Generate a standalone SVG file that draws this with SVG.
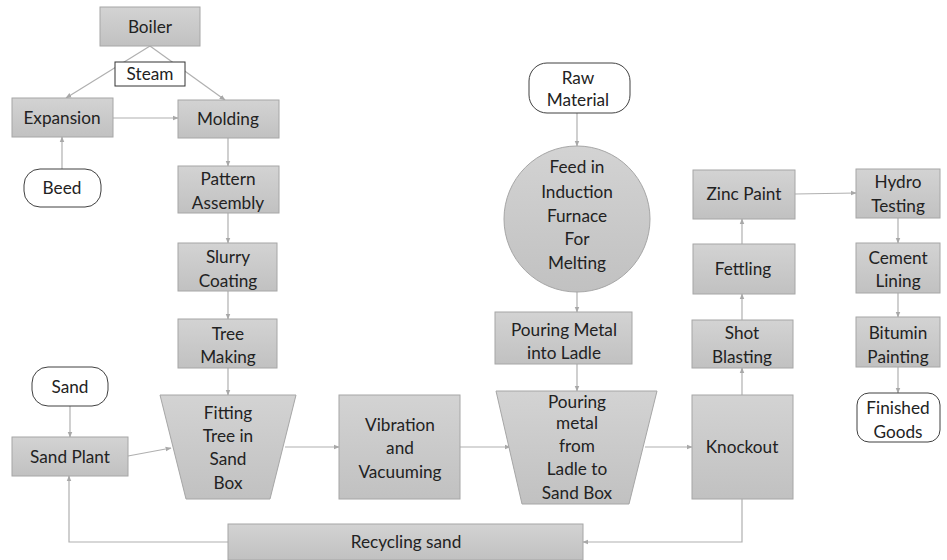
<svg xmlns="http://www.w3.org/2000/svg" width="947" height="560" viewBox="0 0 947 560">
<defs>
<linearGradient id="g" x1="0" y1="0" x2="0" y2="1">
<stop offset="0" stop-color="#d3d3d3"/>
<stop offset="1" stop-color="#c1c1c1"/>
</linearGradient>
<marker id="ah" viewBox="0 0 10 10" refX="9" refY="5" markerWidth="5" markerHeight="5" orient="auto">
<path d="M0,1 L10,5 L0,9 z" fill="#a8a8a8"/>
</marker>
</defs>
<style>
.box{fill:url(#g);stroke:#a6a6a6;stroke-width:1}
.term{fill:#fff;stroke:#404040;stroke-width:1}
.lbl{font-family:Lato,"Liberation Sans",sans-serif;font-size:17.2px;fill:#222;text-anchor:middle}
.c{fill:none;stroke:#b0b0b0;stroke-width:1.2;marker-end:url(#ah)}
</style>
<rect width="947" height="560" fill="#fff"/>
<g id="connectors">
<path class="c" d="M150,46 L66,98"/>
<path class="c" d="M150,46 L225,100"/>
<path class="c" d="M113,118 L178,118"/>
<path class="c" d="M62,169 L62,137"/>
<path class="c" d="M228,138 L228,166"/>
<path class="c" d="M228,213 L228,243"/>
<path class="c" d="M228,291 L228,319"/>
<path class="c" d="M228,368 L228,395"/>
<path class="c" d="M70,406 L70,437"/>
<path class="c" d="M128,456 L171,448"/>
<path class="c" d="M285,447 L339,447"/>
<path class="c" d="M460,447 L510,447"/>
<path class="c" d="M577,113 L577,146"/>
<path class="c" d="M577,292 L577,312"/>
<path class="c" d="M577,364 L577,391"/>
<path class="c" d="M645,447 L692,447"/>
<path class="c" d="M742,395 L742,368"/>
<path class="c" d="M742,320 L742,294"/>
<path class="c" d="M742,244 L742,219"/>
<path class="c" d="M795,194 L856,193"/>
<path class="c" d="M898,218 L898,243"/>
<path class="c" d="M898,293 L898,317"/>
<path class="c" d="M898,367 L898,393"/>
<path class="c" d="M742,499 L742,542 L583,542"/>
<path class="c" d="M228,542 L69,542 L69,476"/>
</g>
<g id="boiler"><rect class="box" x="100" y="7" width="100" height="39"/><text class="lbl" x="150" y="33">Boiler</text></g>
<g id="steam"><rect x="115" y="62" width="70" height="24" fill="#fff" stroke="#333" stroke-width="1"/><text class="lbl" x="150" y="80">Steam</text></g>
<g id="expansion"><rect class="box" x="12" y="98" width="101" height="39"/><text class="lbl" x="62" y="124">Expansion</text></g>
<g id="molding"><rect class="box" x="178" y="100" width="101" height="38"/><text class="lbl" x="228" y="125">Molding</text></g>
<g id="beed"><rect class="term" x="24" y="169" width="77" height="38" rx="16"/><text class="lbl" x="62" y="194">Beed</text></g>
<g id="pattern"><rect class="box" x="178" y="166" width="101" height="47"/><text class="lbl" x="228" y="185">Pattern</text><text class="lbl" x="228" y="209">Assembly</text></g>
<g id="slurry"><rect class="box" x="178" y="243" width="99" height="48"/><text class="lbl" x="228" y="263">Slurry</text><text class="lbl" x="228" y="287">Coating</text></g>
<g id="tree"><rect class="box" x="178" y="319" width="99" height="49"/><text class="lbl" x="228" y="340">Tree</text><text class="lbl" x="228" y="363">Making</text></g>
<g id="fitting"><path class="box" d="M160,395 L296,395 L270,499 L186,499 z"/><text class="lbl" x="228" y="419">Fitting</text><text class="lbl" x="228" y="442">Tree in</text><text class="lbl" x="228" y="465">Sand</text><text class="lbl" x="228" y="489">Box</text></g>
<g id="sand"><rect class="term" x="32" y="367" width="76" height="39" rx="16"/><text class="lbl" x="70" y="393">Sand</text></g>
<g id="sandplant"><rect class="box" x="12" y="437" width="116" height="39"/><text class="lbl" x="70" y="463">Sand Plant</text></g>
<g id="vibration"><rect class="box" x="339" y="395" width="121" height="104"/><text class="lbl" x="400" y="431">Vibration</text><text class="lbl" x="400" y="454">and</text><text class="lbl" x="400" y="478">Vacuuming</text></g>
<g id="recycling"><rect class="box" x="228" y="524" width="355" height="36"/><text class="lbl" x="406" y="548">Recycling sand</text></g>
<g id="rawmaterial"><rect class="term" x="529" y="63" width="101" height="50" rx="18"/><text class="lbl" x="578" y="84">Raw</text><text class="lbl" x="578" y="106">Material</text></g>
<g id="furnace"><circle cx="577" cy="219" r="73" fill="url(#g)" stroke="#a6a6a6"/><text class="lbl" x="577" y="173">Feed in</text><text class="lbl" x="577" y="198">Induction</text><text class="lbl" x="577" y="222">Furnace</text><text class="lbl" x="577" y="245">For</text><text class="lbl" x="577" y="269">Melting</text></g>
<g id="ladle"><rect class="box" x="495" y="312" width="137" height="52"/><text class="lbl" x="564" y="336">Pouring Metal</text><text class="lbl" x="564" y="359">into Ladle</text></g>
<g id="pouring"><path class="box" d="M496,391 L657,391 L629,504 L522,504 z"/><text class="lbl" x="577" y="408">Pouring</text><text class="lbl" x="577" y="429">metal</text><text class="lbl" x="577" y="452">from</text><text class="lbl" x="577" y="475">Ladle to</text><text class="lbl" x="577" y="499">Sand Box</text></g>
<g id="knockout"><rect class="box" x="692" y="395" width="101" height="104"/><text class="lbl" x="742" y="453">Knockout</text></g>
<g id="shot"><rect class="box" x="692" y="320" width="101" height="48"/><text class="lbl" x="742" y="339">Shot</text><text class="lbl" x="742" y="363">Blasting</text></g>
<g id="fettling"><rect class="box" x="693" y="244" width="102" height="50"/><text class="lbl" x="743" y="275">Fettling</text></g>
<g id="zinc"><rect class="box" x="693" y="170" width="102" height="49"/><text class="lbl" x="744" y="200">Zinc Paint</text></g>
<g id="hydro"><rect class="box" x="856" y="169" width="84" height="49"/><text class="lbl" x="898" y="188">Hydro</text><text class="lbl" x="898" y="212">Testing</text></g>
<g id="cement"><rect class="box" x="856" y="243" width="84" height="50"/><text class="lbl" x="898" y="264">Cement</text><text class="lbl" x="898" y="287">Lining</text></g>
<g id="bitumin"><rect class="box" x="856" y="317" width="84" height="50"/><text class="lbl" x="898" y="339">Bitumin</text><text class="lbl" x="898" y="363">Painting</text></g>
<g id="finished"><rect class="term" x="857" y="393" width="83" height="49" rx="12"/><text class="lbl" x="898" y="414">Finished</text><text class="lbl" x="898" y="438">Goods</text></g>
</svg>
